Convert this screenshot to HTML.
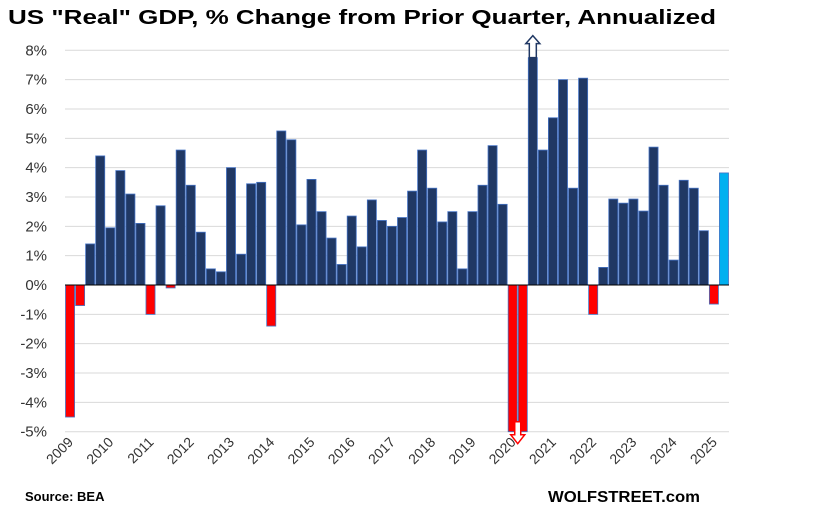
<!DOCTYPE html>
<html><head><meta charset="utf-8"><style>
body{margin:0;background:#fff;}
svg{display:block;font-family:"Liberation Sans",sans-serif;}
</style></head><body>
<svg id="c" width="829" height="512" viewBox="0 0 829 512">
<text x="8" y="24" font-size="20" font-weight="bold" fill="#000" textLength="708" lengthAdjust="spacingAndGlyphs">US "Real" GDP, % Change from Prior Quarter, Annualized</text>
<g id="grid"></g><g id="bars"></g><g id="xlab"></g>
<text x="25" y="501" font-size="13" font-weight="bold" fill="#000">Source: BEA</text>
<text x="548" y="502" font-size="16" font-weight="bold" fill="#000" textLength="152" lengthAdjust="spacingAndGlyphs">WOLFSTREET.com</text>
</svg>
<script>
const years = ["2009","2010","2011","2012","2013","2014","2015","2016","2017","2018","2019","2020","2021","2022","2023","2024","2025"];
const yTicks = [8,7,6,5,4,3,2,1,0,-1,-2,-3,-4,-5];
const values = [
-4.5,-0.7,1.4,4.4,
1.95,3.9,3.1,2.1,
-1.0,2.7,-0.1,4.6,
3.4,1.8,0.55,0.45,
4.0,1.05,3.45,3.5,
-1.4,5.25,4.95,2.05,
3.6,2.5,1.6,0.7,
2.35,1.3,2.9,2.2,
2.0,2.3,3.2,4.6,
3.3,2.15,2.5,0.55,
2.5,3.4,4.75,2.75,
-5.5,-28.0,35.0,4.6,
5.7,7.0,3.3,7.05,
-1.0,0.6,2.93,2.79,
2.93,2.52,4.7,3.4,
0.85,3.57,3.3,1.85,
-0.65,3.82];
const yMin=-5, yMax=8;
const L=65, R=729, T=50.3, B=431.7;
const NS="http://www.w3.org/2000/svg";
const y = v => T + (yMax - v) * (B - T) / (yMax - yMin);
const bw = (R - L) / values.length;
const x = i => L + i * bw;
function mk(tag, attrs, parent){const e=document.createElementNS(NS,tag);for(const k in attrs)e.setAttribute(k,attrs[k]);parent.appendChild(e);return e;}
const grid=document.getElementById('grid');
yTicks.forEach(t=>{
  const g=mk('line',{x1:L,x2:R,y1:y(t),y2:y(t),stroke:'#d9d9d9','stroke-width':1},grid);
  
  
  const tx=mk('text',{x:47,y:y(t)+5,'font-size':15,fill:'#333','text-anchor':'end'},grid);
  tx.textContent=t+'%';
  
  
});
const bars=document.getElementById('bars');
values.forEach((v,i)=>{
  const cv=Math.max(yMin,Math.min(7.75,v));
  const y0=y(0), y1=y(cv);
  let fill = v<0 ? '#ff0000' : '#203864';
  if(i===values.length-1) fill='#00b0f0';
  const r=mk('rect',{x:x(i)+0.5,y:Math.min(y0,y1),width:bw-1,height:Math.abs(y1-y0),fill:fill,stroke:'#4472c4','stroke-width':0.8},bars);
  
  
  if(v>yMax){
    const cx=x(i)+bw/2, top=y(cv);
    const a=mk('polygon',{points:`${cx},${top-22} ${cx+7},${top-14} ${cx+3.5},${top-14} ${cx+3.5},${top} ${cx-3.5},${top} ${cx-3.5},${top-14} ${cx-7},${top-14}`,fill:'#fff',stroke:'#203864','stroke-width':1.5},bars);
    
    
  }
  if(v<-20){
    const cx=x(i), b=y(yMin)-10;
    const a=mk('polygon',{points:`${cx},${b+22} ${cx+7},${b+13} ${cx+3},${b+13} ${cx+3},${b} ${cx-3},${b} ${cx-3},${b+13} ${cx-7},${b+13}`,fill:'#fff',stroke:'#ff0000','stroke-width':1.5},bars);
    
    
  }
});
const ax=mk('line',{x1:L,x2:R,y1:y(0),y2:y(0),stroke:'#000','stroke-width':1},bars);


const xl=document.getElementById('xlab');
years.forEach((yr,k)=>{
  const px=x(k*4)+bw/2+4, py=443;
  const t=mk('text',{x:px,y:py,'font-size':14,fill:'#333','text-anchor':'end',transform:`rotate(-45 ${px} ${py})`},xl);
  t.textContent=yr;
  
  
});
</script>
</body></html>
